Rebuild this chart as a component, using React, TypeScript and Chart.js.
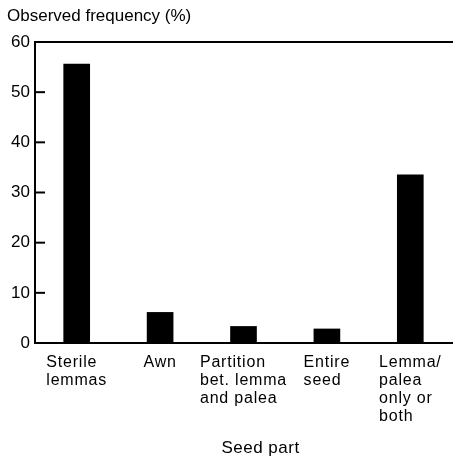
import React, { useEffect, useRef } from "react";
import { Chart, registerables } from "chart.js";

Chart.register(...registerables);

const categories: string[][] = [
  ["Sterile", "lemmas"],
  ["Awn"],
  ["Partition", "bet. lemma", "and palea"],
  ["Entire", "seed"],
  ["Lemma/", "palea", "only or", "both"],
];
const frequencies: number[] = [55.6, 6.1, 3.3, 2.8, 33.5];
const yTicks: number[] = [0, 10, 20, 30, 40, 50, 60];
const yTitle = "Observed frequency (%)";
const xTitle = "Seed part";

const FONT = "'Liberation Sans', Arial, sans-serif";

const decorPlugin = {
  id: "decor",
  afterDraw(chart: any) {
    const { ctx, chartArea, scales } = chart;
    const y = scales.y;
    const x = scales.x;
    ctx.save();
    // top frame line
    ctx.strokeStyle = "#000";
    ctx.lineWidth = 2;
    ctx.beginPath();
    ctx.moveTo(chartArea.left - 1, chartArea.top);
    ctx.lineTo(chart.width, chartArea.top);
    ctx.stroke();
    // inward y ticks
    yTicks.forEach((v) => {
      const py = y.getPixelForValue(v);
      ctx.beginPath();
      ctx.moveTo(chartArea.left, py);
      ctx.lineTo(chartArea.left + 10, py);
      ctx.stroke();
    });
    // category labels, left-aligned blocks centred on bars
    ctx.fillStyle = "#000";
    ctx.font = `16px ${FONT}`;
    (ctx as any).letterSpacing = "0.8px";
    ctx.textAlign = "left";
    ctx.textBaseline = "alphabetic";
    categories.forEach((lines, i) => {
      const cx = x.getPixelForValue(i);
      const w = Math.max(...lines.map((l) => ctx.measureText(l).width));
      lines.forEach((l, j) => {
        ctx.fillText(l, cx - w / 2, chartArea.bottom + 24 + j * 18);
      });
    });
    // x title
    (ctx as any).letterSpacing = "0.5px";
    ctx.font = `17px ${FONT}`;
    ctx.textAlign = "center";
    ctx.fillText(xTitle, (chartArea.left + chartArea.right) / 2 + 17, chart.height - 6);
    ctx.restore();
  },
};

export default function App() {
  const ref = useRef<HTMLCanvasElement | null>(null);
  useEffect(() => {
    document.body.style.margin = "0";
    if (!ref.current) return;
    const chart = new Chart(ref.current, {
      type: "bar",
      data: {
        labels: categories.map((c) => c.join(" ")),
        datasets: [
          {
            data: frequencies,
            backgroundColor: "#000",
            borderWidth: 0,
            barThickness: 26,
          },
        ],
      },
      options: {
        responsive: false,
        animation: false,
        devicePixelRatio: 1,
        layout: { padding: { top: 0, left: 7, right: 1, bottom: 0 } },
        plugins: {
          legend: { display: false },
          tooltip: { enabled: false },
          title: {
            display: true,
            text: yTitle,
            align: "start",
            color: "#000",
            font: { family: FONT, size: 17, weight: "normal" },
            padding: { top: 6, bottom: 15.6 },
          },
        },
        scales: {
          x: {
            type: "category",
            offset: true,
            ticks: { display: false },
            grid: { display: true, drawOnChartArea: false, drawTicks: false, color: "rgba(0,0,0,0)" },
            border: { display: true, color: "#000", width: 2 },
            afterFit: (s: any) => {
              s.height = 116;
            },
          },
          y: {
            min: 0,
            max: 60,
            ticks: {
              stepSize: 10,
              color: "#000",
              padding: 5,
              font: { family: FONT, size: 17 },
            },
            grid: { display: true, drawOnChartArea: false, drawTicks: false, color: "rgba(0,0,0,0)" },
            border: { display: true, color: "#000", width: 2 },
            afterFit: (s: any) => {
              s.width = 28;
            },
          },
        },
      },
      plugins: [decorPlugin],
    });
    return () => chart.destroy();
  }, []);
  return (
    <div style={{ position: "absolute", left: 0, top: 0, width: 453, height: 459 }}>
      <canvas ref={ref} width={453} height={459} style={{ width: 453, height: 459 }} />
    </div>
  );
}
